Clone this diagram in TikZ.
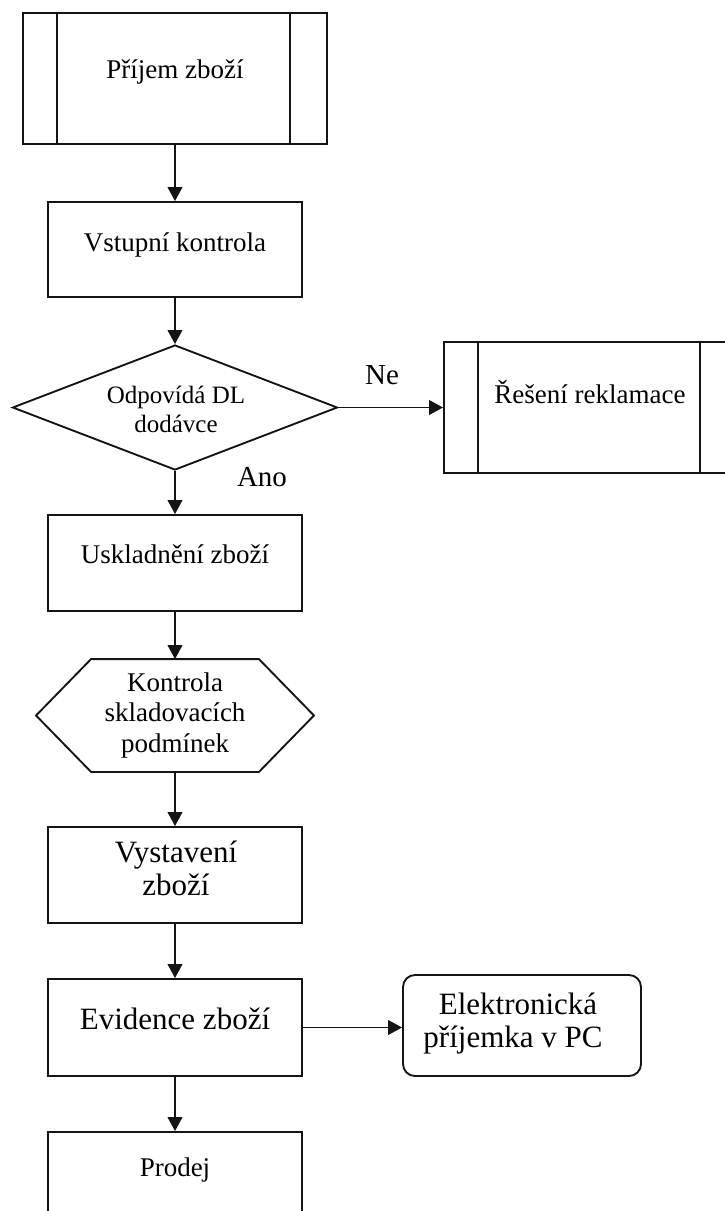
\documentclass[tikz,border=0pt]{standalone}
\usepackage{fontspec}
\setmainfont{Liberation Serif}
\usetikzlibrary{arrows.meta,shapes.geometric,calc}

\begin{document}
\begin{tikzpicture}[
  x=0.75pt, y=-0.75pt,
  line width=1.4pt,
  box/.style={draw=black!92, rectangle, inner sep=0pt, line width=1.4pt},
  wbox/.style={box, minimum width=190.5pt},
  decision/.style={draw=black!92, diamond, inner sep=0pt, line width=1.4pt},
  txt/.style={inner sep=0pt, font=\fontsize{20.25pt}{24pt}\selectfont, text height=14.2pt, text depth=5pt},
  txtl/.style={inner sep=0pt, font=\fontsize{23.25pt}{28pt}\selectfont, text height=16.3pt, text depth=5.8pt},
  txts/.style={inner sep=0pt, font=\fontsize{18.75pt}{22pt}\selectfont, text height=13.1pt, text depth=4.7pt},
  txtm/.style={inner sep=0pt, font=\fontsize{21.75pt}{26pt}\selectfont, text height=15.2pt, text depth=5.4pt},
  flow/.style={draw=black!92, line width=1.4pt, -{Triangle[length=10.5pt,width=11pt]}}
]
\useasboundingbox (0,0) rectangle (725,1211);

% process boxes
\node[box, minimum width=228pt, minimum height=98.25pt] (pz) at (175,78.5) {};
\node[wbox, minimum height=71.25pt] (vk) at (175,249.5) {};
\node[decision, minimum width=243.75pt, minimum height=93.75pt] (dl) at (175,407.5) {};
\node[box, minimum width=217.5pt, minimum height=98.25pt] (rr) at (589,407.5) {};
\node[wbox, minimum height=72pt] (us) at (175,563) {};
\node[inner sep=0pt, minimum width=207pt, minimum height=83.25pt] (ks) at (175,715.5) {};
\node[wbox, minimum height=72pt] (vz) at (175,875) {};
\node[wbox, minimum height=72.75pt] (ez) at (175,1027.5) {};
\node[box, rounded corners=9pt, minimum width=178.5pt, minimum height=75.75pt] (ep) at (522,1025.5) {};
\node[wbox, minimum height=72pt] (pr) at (175,1180) {};

% side bars of the predefined-process boxes
\draw[draw=black!92] ([xshift=26.25pt]pz.north west) -- ([xshift=26.25pt]pz.south west);
\draw[draw=black!92] ([xshift=-28.5pt]pz.north east) -- ([xshift=-28.5pt]pz.south east);
\draw[draw=black!92] ([xshift=26.25pt]rr.north west) -- ([xshift=26.25pt]rr.south west);
\draw[draw=black!92] ([xshift=-26.25pt]rr.north east) -- ([xshift=-26.25pt]rr.south east);

% hexagon (preparation step)
\draw[draw=black!92] (ks.west) -- ($(ks.north west)+(55,0)$) -- ($(ks.north east)+(-55,0)$)
  -- (ks.east) -- ($(ks.south east)+(-55,0)$) -- ($(ks.south west)+(55,0)$) -- cycle;

% texts
\node[txt] (t1) at (175,72) {Příjem zboží};
\node[txt] (t2) at (175,245) {Vstupní kontrola};
\node[txts] (t3a) at (176,398) {Odpovídá DL};
\node[txts] (t3b) at (176,427) {dodávce};
\node[txt] (t4) at (590,397) {Řešení reklamace};
\node[txt] (t5) at (175,557) {Uskladnění zboží};
\node[txt] (t6a) at (175,685) {Kontrola};
\node[txt] (t6b) at (175,715) {skladovacích};
\node[txt] (t6c) at (175,746) {podmínek};
\node[txtl] (t7a) at (176,855) {Vystavení};
\node[txtl] (t7b) at (176,888) {zboží};
\node[txtl] (t8) at (175,1022) {Evidence zboží};
\node[txtl] (t9a) at (518,1007) {Elektronická};
\node[txtl] (t9b) at (513,1040) {příjemka v PC};
\node[txt] (t10) at (175,1170) {Prodej};

% branch labels
\node[txtm] (ne) at (382,378) {Ne};
\node[txtm] (ano) at (262,480) {Ano};

% connectors
\draw[flow] (pz.south) -- (vk.north);
\draw[flow] (vk.south) -- (dl.north);
\draw[flow] (dl.east) -- (rr.west);
\draw[flow] (dl.south) -- (us.north);
\draw[flow] (us.south) -- (ks.north);
\draw[flow] (ks.south) -- (vz.north);
\draw[flow] (vz.south) -- (ez.north);
\draw[flow] (ez.east) -- (ez.east -| ep.west);
\draw[flow] (ez.south) -- (pr.north);
\end{tikzpicture}
\end{document}
